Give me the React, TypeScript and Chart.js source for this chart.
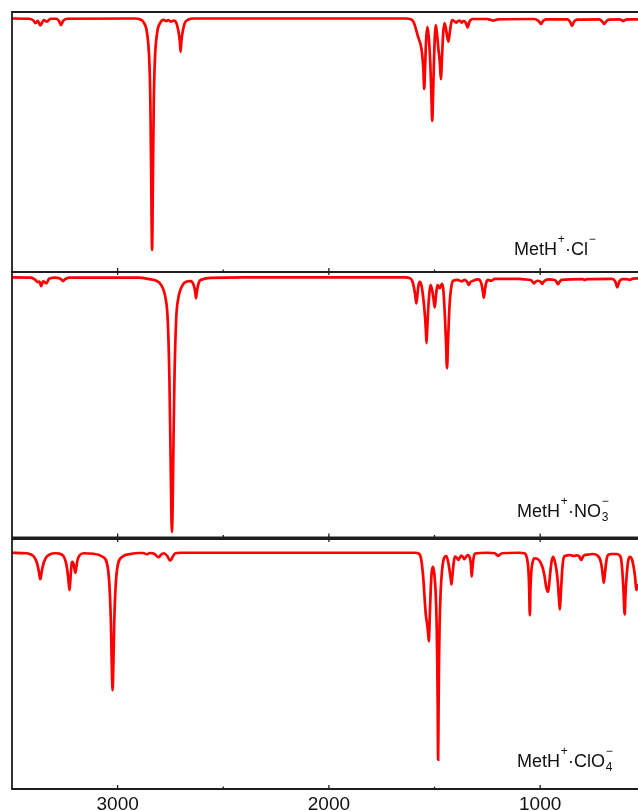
import React, { useEffect, useRef } from 'react';
import { Chart, registerables } from 'chart.js';

Chart.register(...registerables);

// ---------- axis ----------
const X_MIN = 537;
const X_MAX = 3500;
const tickValues = [3000, 2500, 2000, 1500, 1000];
const tickLabels = ['3000', '', '2000', '', '1000'];

// ---------- MetH+·Cl− (wavenumber cm-1, relative transmittance %) ----------
const clWavenumbers = [
  3500, 3420, 3400, 3389, 3378, 3366, 3350, 3334, 3318, 3290, 3278, 3268, 3258, 3240,
  2920, 2895, 2877, 2861, 2850, 2845, 2841, 2837, 2833, 2829, 2824, 2813, 2797,
  2782, 2770, 2760, 2748, 2735, 2722, 2712, 2706, 2702, 2698, 2692, 2682, 2665, 2640,
  1640, 1612, 1600, 1590, 1580, 1572, 1566, 1559, 1553, 1549, 1545, 1540, 1534,
  1527, 1520, 1515, 1511, 1507, 1502, 1498, 1494, 1489, 1482, 1475, 1470, 1465,
  1459, 1453, 1447, 1440, 1434, 1428, 1422, 1416, 1408, 1398, 1390, 1382, 1376,
  1371, 1364, 1356, 1349, 1343, 1337, 1330, 1320, 1250, 1232, 1222, 1212, 1200,
  1030, 1008, 996, 986, 970, 870, 859, 849, 840, 826, 720, 706, 697, 688, 675,
  625, 615, 607, 599, 585, 537,
];
const clTransmittance = [
  97.5, 97.4, 96.8, 95.7, 96.6, 94.8, 96.9, 96.3, 97.4, 97.4, 96.6, 95.0, 96.6, 97.4,
  97.5, 97.2, 96.0, 92.0, 81.0, 65.0, 36.0, 8.5, 36.0, 65.0, 81.0, 92.0, 96.0,
  97.0, 96.5, 96.9, 96.3, 96.7, 95.8, 92.5, 89.0, 84.7, 89.0, 92.5, 95.8, 97.1, 97.5,
  97.5, 97.2, 96.3, 94.0, 91.0, 89.0, 87.5, 84.0, 78.0, 70.4, 78.0, 89.0, 94.3,
  90.0, 80.0, 68.0, 58.1, 68.0, 83.0, 91.5, 95.0, 92.0, 86.0, 80.5, 74.2, 82.0,
  92.0, 95.7, 94.0, 90.5, 88.6, 92.0, 95.5, 96.9, 96.6, 95.9, 96.5, 96.7, 96.3,
  95.9, 96.5, 96.3, 95.2, 94.1, 95.8, 96.9, 97.3, 97.3, 96.9, 96.7, 96.9, 97.2,
  97.3, 96.6, 95.4, 96.6, 97.2, 97.2, 96.3, 94.6, 96.3, 97.1, 97.2, 96.3, 95.4, 96.3, 97.1,
  97.2, 96.9, 96.5, 96.9, 97.2, 97.2,
];

// ---------- MetH+·NO3− ----------
const no3Wavenumbers = [
  3500, 3410, 3392, 3378, 3370, 3362, 3353, 3337, 3325, 3300, 3272, 3262, 3258, 3250, 3230,
  2900, 2843, 2820, 2793, 2773, 2763, 2755, 2750, 2746.5, 2743, 2739.5, 2736, 2731, 2723,
  2713, 2693, 2672, 2655, 2642, 2635, 2632, 2629, 2626, 2622, 2614, 2600, 2560, 2400,
  1640, 1615, 1605, 1597, 1591, 1586, 1581, 1576, 1570, 1562, 1553, 1546, 1541, 1538,
  1535, 1530, 1524, 1519, 1512, 1505, 1499, 1494, 1489, 1486, 1480, 1475, 1469, 1464,
  1458, 1452, 1446, 1441, 1436, 1430, 1423, 1412, 1390, 1373, 1357, 1345, 1338, 1330,
  1318, 1295, 1286, 1278, 1272, 1267, 1262, 1256, 1247, 1231, 1215, 1100, 1073, 1045,
  1035, 1029, 1022, 1010, 997, 991, 984, 973, 960, 930, 922, 916, 909, 898, 800, 789,
  778, 660, 645, 640, 635, 630, 624, 610, 590, 576, 565, 537,
];
const no3Transmittance = [
  98.0, 97.9, 97.2, 96.2, 96.4, 94.7, 96.5, 95.7, 97.4, 97.9, 97.5, 96.8, 96.6, 97.2, 97.9,
  97.9, 97.2, 96.8, 95.0, 90.0, 82.0, 60.0, 34.0, 12.5, 2.0, 12.5, 34.0, 60.0, 82.0,
  90.0, 95.0, 96.4, 96.6, 95.5, 93.5, 92.0, 90.1, 92.0, 94.0, 96.4, 97.2, 97.8, 98.0,
  98.0, 97.6, 96.5, 94.0, 91.0, 88.2, 91.5, 95.0, 96.3, 95.0, 90.0, 84.0, 78.0, 73.2,
  78.0, 86.0, 92.5, 95.1, 93.5, 90.0, 86.7, 90.5, 94.0, 95.1, 94.5, 93.9, 95.0, 95.5,
  93.0, 85.0, 74.0, 63.8, 74.0, 86.0, 93.0, 96.7, 97.0, 96.5, 97.0, 96.2, 95.1, 96.2,
  96.7, 97.2, 97.0, 95.5, 93.0, 90.3, 93.0, 95.8, 97.0, 96.7, 97.4, 97.4, 97.2, 97.0,
  96.2, 95.7, 96.3, 96.7, 96.2, 95.5, 96.3, 97.0, 97.2, 97.0, 96.2, 95.4, 96.2, 97.0, 97.3, 97.0,
  97.3, 97.4, 96.5, 95.3, 94.2, 95.3, 96.6, 97.3, 97.3, 97.0, 97.4, 97.6,
];

// ---------- MetH+·ClO4− ----------
const clo4Wavenumbers = [
  3500, 3430, 3410, 3395, 3382, 3374, 3369, 3366, 3363, 3358, 3350, 3337, 3322, 3295,
  3265, 3252, 3242, 3236, 3231, 3228, 3225, 3221, 3217, 3214, 3210, 3205, 3200, 3196,
  3190, 3180, 3160, 3114, 3069, 3044, 3032, 3028, 3024, 3020, 3016, 3004, 2979, 2934,
  2900, 2880, 2861, 2848, 2825, 2806, 2795, 2782, 2765, 2751, 2740, 2727, 2700,
  1595, 1575, 1566, 1560, 1552, 1546, 1541, 1535, 1530, 1527, 1523, 1518, 1513, 1507,
  1501, 1495, 1490, 1487, 1485, 1483, 1481, 1479, 1476, 1471, 1465, 1458, 1450, 1444,
  1436, 1429, 1424, 1420, 1416, 1410, 1404, 1396, 1387, 1380, 1374, 1366, 1359, 1351,
  1343, 1333, 1328, 1324, 1320, 1315, 1308, 1250, 1215, 1205, 1199, 1192, 1180, 1100,
  1075, 1063, 1056, 1052, 1049, 1046, 1042, 1035, 1026, 1005, 990, 980, 972, 965, 960,
  953, 946, 939, 932, 922, 915, 911, 907, 903, 897, 892, 887, 875, 860, 840, 825, 815,
  805, 797, 789, 770, 750, 730, 715, 707, 703, 699, 695, 690, 684, 679, 660, 640, 620,
  612, 606, 600, 596, 591, 584, 576, 566, 557, 551, 545, 537,
];
const clo4Transmittance = [
  94.5, 94.3, 93.8, 92.8, 90.5, 87.5, 85.0, 83.9, 85.0, 87.5, 90.5, 92.8, 93.8, 94.3,
  93.8, 92.5, 89.5, 86.0, 82.0, 79.6, 82.0, 87.0, 90.5, 90.9, 90.3, 88.5, 86.5, 88.5,
  91.5, 93.5, 94.3, 94.1, 92.8, 86.9, 67.0, 50.5, 39.5, 50.5, 67.0, 86.9, 92.8, 94.1,
  94.4, 94.4, 93.9, 94.4, 94.0, 92.7, 93.7, 94.3, 93.2, 91.3, 92.8, 94.3, 94.5,
  94.5, 94.2, 93.0, 90.0, 83.0, 75.0, 69.5, 66.0, 62.0, 59.1, 68.0, 80.0, 87.0, 88.9,
  86.0, 79.0, 66.0, 50.0, 32.0, 11.7, 32.0, 50.0, 66.0, 79.0, 87.0, 91.5, 93.0, 93.2,
  91.0, 87.5, 84.5, 81.8, 85.0, 90.0, 93.0, 92.6, 91.6, 92.6, 93.4, 92.8, 91.9, 92.9,
  93.6, 92.5, 90.0, 85.0, 89.0, 92.5, 94.2, 94.5, 94.3, 93.6, 93.2, 93.7, 94.3, 94.5,
  94.3, 92.5, 88.0, 80.0, 69.5, 80.0, 87.0, 91.0, 92.3, 91.5, 89.0, 85.5, 81.0, 78.9, 80.0,
  86.0, 91.0, 92.9, 91.5, 87.0, 81.0, 76.0, 71.8, 77.0, 86.0, 91.0, 92.9, 93.4, 93.6, 93.2, 93.5, 93.0,
  91.6, 93.0, 93.6, 93.8, 94.0, 93.5, 91.5, 88.0, 85.0, 82.5, 85.0, 89.0, 92.5, 93.6, 94.0, 94.0, 93.0,
  88.0, 80.0, 69.8, 78.0, 85.0, 91.0, 92.9, 92.0, 88.5, 85.0, 79.6, 82.0,
];

type Seg = { t?: string; sup?: string; sub?: string };
const clLabel: Seg[] = [{ t: 'MetH' }, { sup: '+' }, { t: '·Cl' }, { sup: '−' }];
const no3Label: Seg[] = [{ t: 'MetH' }, { sup: '+' }, { t: '·NO' }, { sub: '3', sup: '−' }];
const clo4Label: Seg[] = [{ t: 'MetH' }, { sup: '+' }, { t: '·ClO' }, { sub: '4', sup: '−' }];

const FONT = '"Liberation Sans", Arial, Helvetica, sans-serif';
const LINE_COLOR = 'rgb(255,0,0)';
const FRAME_COLOR = '#1e1e1e';

function drawRich(ctx: CanvasRenderingContext2D, x: number, y: number, segs: Seg[]) {
  let cx = x;
  ctx.textBaseline = 'alphabetic';
  ctx.textAlign = 'left';
  for (const s of segs) {
    if (s.t) {
      ctx.font = `18px ${FONT}`;
      ctx.fillText(s.t, cx, y);
      cx += ctx.measureText(s.t).width;
    } else {
      ctx.font = `12px ${FONT}`;
      let w = 0;
      if (s.sup) {
        ctx.fillText(s.sup, cx + 0.8, y - 12);
        w = Math.max(w, ctx.measureText(s.sup).width);
      }
      if (s.sub) {
        ctx.fillText(s.sub, cx + 0.8, y + 4.5);
        w = Math.max(w, ctx.measureText(s.sub).width);
      }
      cx += w + 1;
    }
  }
}

type PanelCfg = {
  wn: number[];
  tr: number[];
  label: Seg[];
  labelX: number;
  labelY: number;
  canvasH: number;
  padTop: number;
  padBottom: number;
  showAxis: boolean;
  topTicks: boolean;
};

function makeOverlay(cfg: PanelCfg) {
  return {
    id: 'overlay',
    afterDatasetsDraw(chart: any) {
      const { ctx, chartArea: a, scales } = chart;
      const x = scales.x;
      ctx.save();
      ctx.strokeStyle = FRAME_COLOR;
      ctx.lineWidth = 1.8;
      ctx.beginPath();
      ctx.moveTo(a.left, a.top);
      ctx.lineTo(a.right, a.top);
      ctx.moveTo(a.left, a.bottom);
      ctx.lineTo(a.right, a.bottom);
      ctx.moveTo(a.left, a.top - 0.9);
      ctx.lineTo(a.left, a.bottom + 0.9);
      ctx.stroke();
      ctx.lineWidth = 1.3;
      ctx.beginPath();
      tickValues.forEach((v, i) => {
        const px = x.getPixelForValue(v);
        const major = tickLabels[i] !== '';
        ctx.moveTo(px, a.bottom);
        ctx.lineTo(px, a.bottom - (major ? 4 : 2.5));
        if (cfg.topTicks && major) {
          ctx.moveTo(px, a.top);
          ctx.lineTo(px, a.top + 3);
        }
      });
      ctx.stroke();
      ctx.fillStyle = '#111';
      drawRich(ctx, cfg.labelX, cfg.labelY, cfg.label);
      ctx.restore();
    },
  };
}

function Panel({ cfg }: { cfg: PanelCfg }) {
  const ref = useRef<HTMLCanvasElement | null>(null);
  useEffect(() => {
    if (!ref.current) return;
    const chart = new Chart(ref.current, {
      type: 'line',
      data: {
        datasets: [
          {
            data: cfg.wn.map((w, i) => ({ x: w, y: cfg.tr[i] })),
            borderColor: LINE_COLOR,
            borderWidth: 2.7,
            pointRadius: 0,
            fill: false,
            cubicInterpolationMode: 'monotone',
          },
        ],
      },
      options: {
        responsive: false,
        animation: false,
        devicePixelRatio: 1,
        events: [],
        layout: { padding: { left: 12, right: 0, top: cfg.padTop, bottom: cfg.padBottom } },
        plugins: { legend: { display: false }, tooltip: { enabled: false } },
        scales: {
          x: {
            type: 'linear',
            min: X_MIN,
            max: X_MAX,
            reverse: true,
            display: cfg.showAxis,
            grid: { display: false, drawTicks: false },
            border: { display: false },
            afterBuildTicks: (scale: any) => {
              scale.ticks = tickValues.map((v) => ({ value: v }));
            },
            ticks: {
              autoSkip: false,
              maxRotation: 0,
              minRotation: 0,
              padding: 4,
              color: '#111',
              font: { family: FONT, size: 19 },
              callback: (_v: any, i: number) => tickLabels[i],
            },
          },
          y: { min: 0, max: 100, display: false },
        },
      },
      plugins: [makeOverlay(cfg)],
    } as any);
    return () => chart.destroy();
  }, [cfg]);
  return (
    <canvas
      ref={ref}
      width={638}
      height={cfg.canvasH}
      style={{ position: 'absolute', left: 0, top: 0, width: 638, height: cfg.canvasH, display: 'block' }}
    />
  );
}

const panels: PanelCfg[] = [
  {
    wn: clWavenumbers, tr: clTransmittance, label: clLabel, labelX: 514, labelY: 254.5,
    canvasH: 811, padTop: 12, padBottom: 811 - 272, showAxis: false, topTicks: false,
  },
  {
    wn: no3Wavenumbers, tr: no3Transmittance, label: no3Label, labelX: 517, labelY: 516.7,
    canvasH: 811, padTop: 272, padBottom: 811 - 537.5, showAxis: false, topTicks: true,
  },
  {
    wn: clo4Wavenumbers, tr: clo4Transmittance, label: clo4Label, labelX: 517, labelY: 766.7,
    canvasH: 830, padTop: 539, padBottom: 830 - 789 - 30.8, showAxis: true, topTicks: true,
  },
];

export default function App() {
  return (
    <div
      style={{
        position: 'fixed', left: 0, top: 0, width: 638, height: 811,
        overflow: 'hidden', background: '#fff',
      }}
    >
      {panels.map((p, i) => (
        <Panel key={i} cfg={p} />
      ))}
    </div>
  );
}
